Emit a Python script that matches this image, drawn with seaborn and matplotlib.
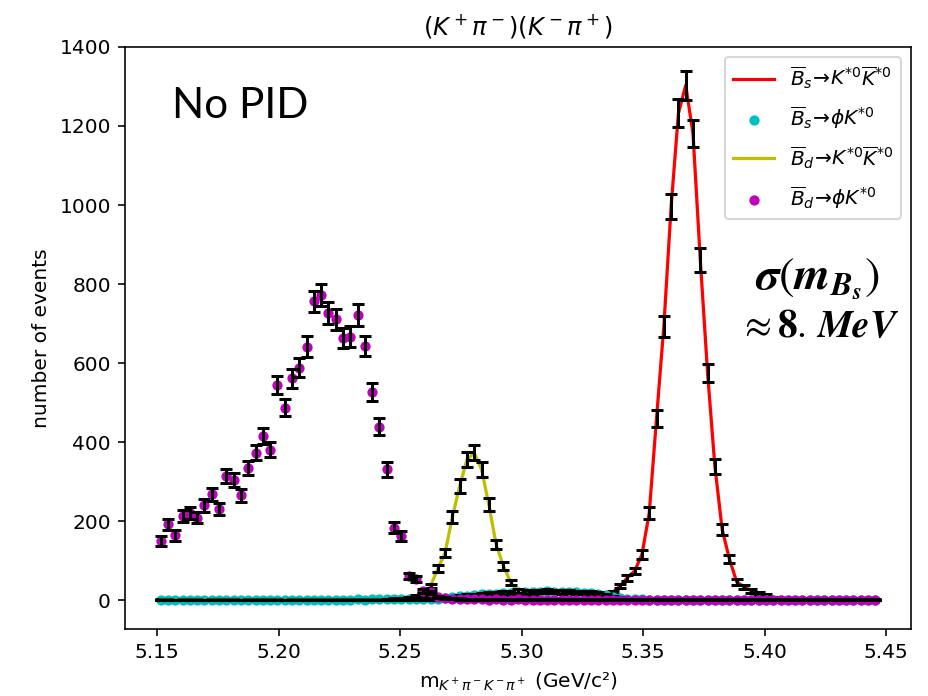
import numpy as np
import pandas as pd
import matplotlib
matplotlib.use("Agg")
import matplotlib.pyplot as plt
import seaborn as sns

# ---- data ----
x_first = 5.1515
bin_width = 0.003
n_bins = 99
mass = [round(x_first + bin_width * i, 4) for i in range(n_bins)]

# Bs -> K*0 K*0bar (red line)
bs_kk = [0]*56 + [1, 1, 2, 3, 5, 10, 20, 36, 57, 74, 116, 221, 461, 693, 996, 1232, 1303,
                  1181, 861, 575, 339, 179, 104, 46, 34, 24, 17, 12, 6, 3, 2, 1] + [0]*11

# Bs -> phi K*0 (cyan dots)
bs_phik = ([1, 1, 0, 1, 1, 1, 0, 1, 1, 1, 1, 0, 1, 1, 1, 1, 1, 0, 1, 1, 1, 1, 1, 1, 1, 1, 1, 2,
            1, 2, 2, 2, 2, 2, 3, 3, 3, 3, 4, 6, 8, 10, 12, 13, 15, 16, 17, 18, 19, 20, 21, 22,
            22, 23, 22, 21, 22, 20, 19, 18, 16, 13, 9, 6, 3, 2, 2, 1, 1, 1, 1, 1, 1, 1, 1, 1,
            1, 1, 1, 1, 0, 1, 1, 0, 1, 1, 0, 1, 0, 1, 0, 1, 0, 0, 1, 0, 0, 0, 0])

# Bd -> K*0 K*0bar (yellow line)
bd_kk = ([0]*31 + [2, 3, 4, 6, 10, 17, 36, 80, 120, 211, 289, 356, 373, 331, 242, 141, 87, 45,
                   23, 12, 7, 4, 3, 2, 1, 1] + [0]*42)

# Bd -> phi K*0 (magenta dots)
bd_phik = ([150, 192, 164, 213, 221, 209, 240, 268, 231, 314, 304, 266, 335, 373, 415, 381,
            545, 487, 562, 588, 642, 756, 773, 727, 711, 663, 667, 722, 644, 526, 439, 331,
            184, 162, 61, 53, 23, 20, 8, 5, 4, 3, 2, 2, 2, 1, 2, 1, 1, 2, 1, 1, 1, 1, 1, 1,
            1, 1, 1, 1, 1, 1, 1, 1, 1, 1, 1, 1, 1, 1, 1, 1, 1, 1, 1, 1, 1, 1, 1, 1, 1, 1, 1,
            1, 1, 1, 1, 1, 1, 1, 1, 1, 1, 1, 1, 1, 1, 1, 1])

labels = [r'$\overline{B}_s\!\rightarrow\! K^{*0}\overline{K}^{*0}$',
          r'$\overline{B}_s\!\rightarrow\!\phi K^{*0}$',
          r'$\overline{B}_d\!\rightarrow\! K^{*0}\overline{K}^{*0}$',
          r'$\overline{B}_d\!\rightarrow\!\phi K^{*0}$']

df = pd.DataFrame({"m": mass, "bs_kk": bs_kk, "bs_phik": bs_phik,
                   "bd_kk": bd_kk, "bd_phik": bd_phik})

fig = plt.figure(figsize=(6.4, 4.8), dpi=145)
ax = fig.add_axes([0.1347, 0.0961, 0.847, 0.8365])

handles = []

def errbars(col):
    ax.errorbar(df["m"], df[col], yerr=np.sqrt(df[col]), fmt="none", ecolor="k",
                capsize=2.8, elinewidth=1.5, capthick=1.5, zorder=2)

sns.lineplot(data=df, x="m", y="bs_kk", color="r", lw=1.6, ax=ax, zorder=2)
handles.append(ax.lines[-1])
errbars("bs_kk")

sns.scatterplot(data=df, x="m", y="bs_phik", color="c", s=26, linewidth=0, ax=ax, zorder=2)
handles.append(ax.collections[-1])
errbars("bs_phik")

sns.lineplot(data=df, x="m", y="bd_kk", color="y", lw=1.6, ax=ax, zorder=2)
handles.append(ax.lines[-1])
errbars("bd_kk")

sns.scatterplot(data=df, x="m", y="bd_phik", color="m", s=26, linewidth=0, ax=ax, zorder=2)
handles.append(ax.collections[-1])
errbars("bd_phik")

ax.legend(handles, labels, loc="upper right", scatterpoints=1, labelspacing=0.65)

ax.set_xlim(5.1368, 5.4602)
ax.set_ylim(-73, 1400)
ax.set_xticks([5.15, 5.20, 5.25, 5.30, 5.35, 5.40, 5.45])
ax.set_xticklabels(["5.15", "5.20", "5.25", "5.30", "5.35", "5.40", "5.45"])
ax.set_yticks(range(0, 1401, 200))
ax.set_title(r'$(K^+\pi^-)(K^-\pi^+)$')
ax.set_xlabel(r'm$_{K^+\pi^-K^-\pi^+}$ (GeV/c²)')
ax.set_ylabel('number of events')

fig.text(172 / 928, 1 - 118 / 697, "No PID", family="Lato", fontsize=21,
         ha="left", va="baseline")
fig.text(818 / 928, 1 - 279 / 697,
         r'$\mathbfit{\sigma}\left(\mathbfit{m}_{\mathbfit{B}_{\mathbfit{s}}}\right)$',
         math_fontfamily="stix", fontsize=23, ha="center", va="center")
fig.text(819 / 928, 1 - 326 / 697, r'$\approx \mathbf{8}.\,\mathbfit{MeV}$',
         math_fontfamily="stix", fontsize=19.5, ha="center", va="center")

fig.savefig("out.png", dpi=145)
